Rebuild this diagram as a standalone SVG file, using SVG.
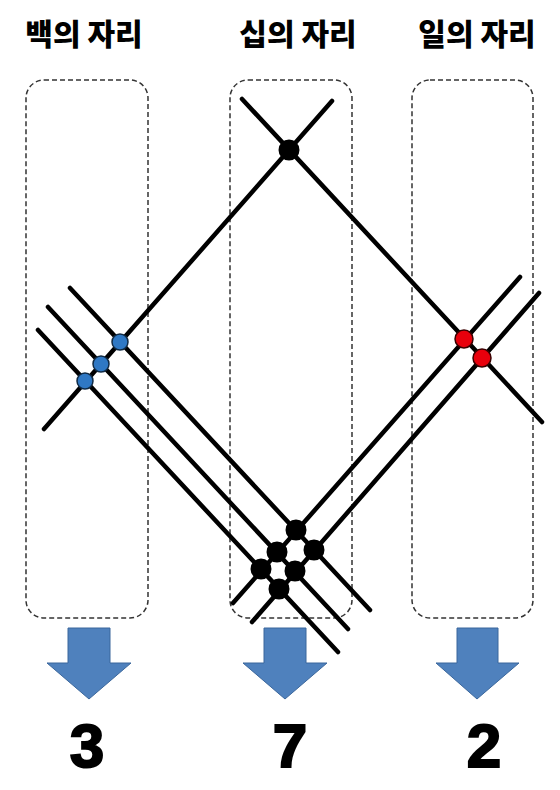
<svg xmlns="http://www.w3.org/2000/svg" width="560" height="790" viewBox="0 0 560 790">
<style>
.hdr{font-family:"Noto Sans CJK KR","Noto Sans",sans-serif;font-weight:900;font-size:30px;fill:#000;text-anchor:middle}
.num{font-family:"Liberation Sans",Arial,sans-serif;font-weight:bold;font-size:62px;fill:#000;stroke:#000;stroke-width:2;text-anchor:middle}
.box{fill:none;stroke:#333;stroke-width:1.5;stroke-dasharray:5 3}
.ln{stroke:#000;stroke-width:4.5;stroke-linecap:round;fill:none}
.blk{fill:#000}
.blu{fill:#2f78c4;stroke:#102a44;stroke-width:1.5}
.red{fill:#e8000c;stroke:#3a0000;stroke-width:1.5}
.arr{fill:#4f81bd;stroke:#3b679c;stroke-width:1}
</style>
<rect width="560" height="790" fill="#fff"/>
<g id="headers">
<text class="hdr" x="84" y="45">백의 자리</text>
<text class="hdr" x="298" y="45">십의 자리</text>
<text class="hdr" x="477" y="45">일의 자리</text>
</g>
<g id="boxes">
<rect id="box-hundreds" class="box" x="26" y="80" width="122" height="538" rx="18"/>
<rect id="box-tens" class="box" x="230" y="80" width="122" height="538" rx="18"/>
<rect id="box-ones" class="box" x="412" y="80" width="121" height="538" rx="18"/>
</g>
<g id="connectors">
<line class="ln" x1="242" y1="99" x2="542" y2="422"/>
<line class="ln" x1="332" y1="101" x2="44" y2="429"/>
<line class="ln" x1="70" y1="288" x2="370" y2="610"/>
<line class="ln" x1="48" y1="307" x2="348" y2="629"/>
<line class="ln" x1="38" y1="330" x2="338" y2="652"/>
<line class="ln" x1="520" y1="277" x2="233" y2="603"/>
<line class="ln" x1="539" y1="293" x2="252" y2="622"/>
</g>
<g id="dots-hundreds">
<circle class="blu" cx="120" cy="342" r="8"/>
<circle class="blu" cx="101" cy="364" r="8"/>
<circle class="blu" cx="85" cy="381" r="8"/>
</g>
<g id="dots-tens">
<circle class="blk" cx="289" cy="150" r="10.5"/>
<circle class="blk" cx="296" cy="530" r="10.5"/>
<circle class="blk" cx="314" cy="550" r="10.5"/>
<circle class="blk" cx="277" cy="552" r="10.5"/>
<circle class="blk" cx="295" cy="571" r="10.5"/>
<circle class="blk" cx="261" cy="569" r="10.5"/>
<circle class="blk" cx="279" cy="589" r="10.5"/>
</g>
<g id="dots-ones">
<circle class="red" cx="464" cy="339" r="9"/>
<circle class="red" cx="482" cy="358" r="9"/>
</g>
<g id="arrows">
<path id="arrow-hundreds" class="arr" d="M68,628 H110 V663 H131 L89,699 L47,663 H68 Z"/>
<path id="arrow-tens" class="arr" d="M264,628 H306 V663 H327 L285,699 L243,663 H264 Z"/>
<path id="arrow-ones" class="arr" d="M457,628 H498 V663 H519 L477,699 L436,663 H457 Z"/>
</g>
<g id="results">
<text class="num" x="87" y="767">3</text>
<text class="num" x="290" y="767">7</text>
<text class="num" x="484" y="767">2</text>
</g>
</svg>
